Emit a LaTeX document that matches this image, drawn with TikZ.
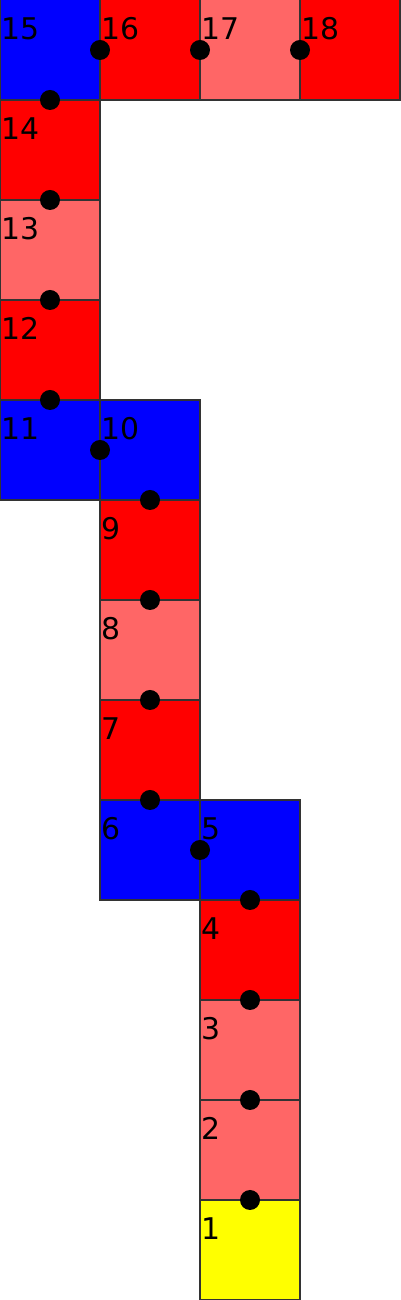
\documentclass[tikz,border=0pt]{standalone}
\usepackage{fontspec}
\setmainfont{DejaVu Sans}
\usepackage{xcolor}
\usepackage{tikz}
\usetikzlibrary{positioning,calc}
\definecolor{cBlue}{HTML}{0000FF}
\definecolor{cRed}{HTML}{FF0000}
\definecolor{cPink}{HTML}{FF6666}
\definecolor{cYellow}{HTML}{FFFF00}
\tikzset{
  cell/.style={draw=black!80, line width=0.3pt, fill=#1, minimum size=1cm,
               inner sep=0pt, outer sep=0pt},
  num/.style={anchor=base west, inner sep=0pt, font=\fontsize{8.5}{10}\selectfont, text=black},
  joint/.style={circle, fill=black, minimum size=2mm, inner sep=0pt},
  node distance=0pt,
}
\begin{document}
\begin{tikzpicture}
  \useasboundingbox (0,0) rectangle (4,13);
  % column on the right
  \node[cell=cYellow] (s1) at (2.5,0.5) {};
  \node[cell=cPink, above=of s1] (s2) {};
  \node[cell=cPink, above=of s2] (s3) {};
  \node[cell=cRed, above=of s3] (s4) {};
  \node[cell=cBlue, above=of s4] (s5) {};
  % middle column
  \node[cell=cBlue, left=of s5] (s6) {};
  \node[cell=cRed, above=of s6] (s7) {};
  \node[cell=cPink, above=of s7] (s8) {};
  \node[cell=cRed, above=of s8] (s9) {};
  \node[cell=cBlue, above=of s9] (s10) {};
  % left column
  \node[cell=cBlue, left=of s10] (s11) {};
  \node[cell=cRed, above=of s11] (s12) {};
  \node[cell=cPink, above=of s12] (s13) {};
  \node[cell=cRed, above=of s13] (s14) {};
  \node[cell=cBlue, above=of s14] (s15) {};
  % top row
  \node[cell=cRed, right=of s15] (s16) {};
  \node[cell=cPink, right=of s16] (s17) {};
  \node[cell=cRed, right=of s17] (s18) {};
  % numbers
  \foreach \i in {1,...,18}
    \node[num] (n\i) at ($(s\i.north west)+(0.01,-0.40)$) {\i};
  % joints between neighbours
  \foreach \a/\b in {1/2,2/3,3/4,4/5,5/6,6/7,7/8,8/9,9/10,10/11,11/12,12/13,13/14,14/15,15/16,16/17,17/18}
    \node[joint] (d\a) at ($(s\a)!0.5!(s\b)$) {};
\end{tikzpicture}
\end{document}
